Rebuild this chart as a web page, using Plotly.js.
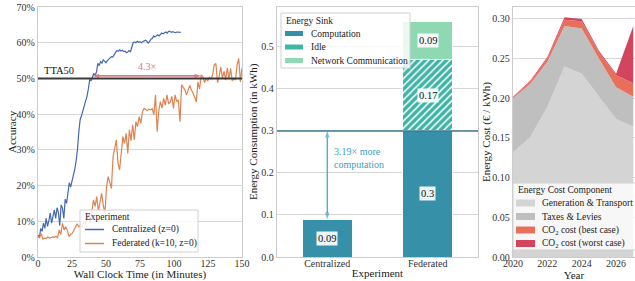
<!DOCTYPE html>
<html><head><meta charset="utf-8">
<script src="https://cdn.plot.ly/plotly-3.0.1.min.js"></script>
<style>html,body{margin:0;padding:0;background:#fff}#chart{width:635px;height:281px}</style>
</head><body><div id="chart"></div>
<script>
// ---------- Panel 1: accuracy over wall clock time ----------
const timeCentral = [0,1,2,3,4,5,6,7,8,9,10,11,12,13,14,15,16,17,18,19,20,21,22,23,24,25,26,27,28,29,30,31,32,33,34,35,36,37,38,39,40,41,42,43,44,45,46,47,48,49,50,51,52,53,54,55,56,57,58,59,60,61,62,63,64,65,66,67,68,69,70,71,72,73,74,75,76,77,78,79,80,81,82,83,84,85,86,87,88,89,90,91,92,93,94,95,96,97,98,99,100,101,102,103,104,105];
const accCentral = [6.2,5.3,8.0,7.2,9.5,8.0,10.8,8.6,10.2,12.3,9.5,12.0,13.2,10.8,13.8,12.5,8.8,14.6,13.7,10.8,16.2,15.0,17.5,20.8,19.6,21.2,22.6,24.5,26.8,30.0,35.0,38.5,39.6,40.8,42.0,43.2,45.0,47.0,49.6,49.4,50.6,51.3,51.0,51.8,54.2,53.6,54.7,54.3,55.2,54.8,54.4,55.0,55.3,55.8,56.1,56.0,56.8,57.3,57.8,57.6,58.0,57.7,57.9,57.5,57.6,57.2,57.4,57.8,57.5,58.6,60.0,60.2,60.0,60.4,60.1,60.3,60.0,60.3,60.6,60.7,60.4,59.9,60.3,61.0,61.2,61.9,61.6,62.0,62.2,61.9,62.4,62.7,62.5,62.9,63.0,62.7,63.2,63.2,62.9,63.1,62.9,62.8,63.0,62.9,62.8,62.9];
const timeFederated = [0,1.2,2.4,3.6,4.8,6,7.2,8.4,9.6,10.8,12,13.2,14.4,15.6,16.8,18,19.2,20.4,21.6,22.8,24,25.2,26.4,27.6,28.8,30,31.2,32.4,33.6,34.8,36,37.2,38.4,39.6,40.8,42,43.2,44.4,45.6,46.8,48,49.2,50.4,51.6,52.8,54,55.2,56.4,57.6,58.8,60,61.2,62.4,63.6,64.8,66,67.2,68.4,69.6,70.8,72,73.2,74.4,75.6,76.8,78,79.2,80.4,81.6,82.8,84,85.2,86.4,87.6,88.8,90,91.2,92.4,93.6,94.8,96,97.2,98.4,99.6,100.8,102,103.2,104.4,105.6,106.8,108,109.2,110.4,111.6,112.8,114,115.2,116.4,117.6,118.8,120,121.2,122.4,123.6,124.8,126,127.2,128.4,129.6,130.8,132,133.2,134.4,135.6,136.8,138,139.2,140.4,141.6,142.8,144,145.2,146.4,147.6,148.8,150];
const accFederated = [5.8,5.5,6.6,5.0,5.3,5.2,5.6,5.3,5.4,5.6,5.5,5.8,5.4,7.6,6.3,9.4,7.6,8.5,7.4,5.7,6.3,6.6,7.5,8.4,9.3,8.4,9.0,8.2,10.0,9.2,10.5,12.2,9.3,13.0,16.0,14.2,16.9,12.8,15.0,17.8,14.5,12.2,19.7,22.5,20.8,19.2,28.1,30.0,32.8,26.3,24.4,29.0,33.7,31.8,34.6,29.0,35.6,32.6,37.0,32.8,37.9,36.5,39.3,37.4,40.7,41.6,41.2,41.0,41.4,41.2,41.5,39.8,45.4,35.1,41.0,43.5,41.7,44.4,42.5,45.4,43.0,43.3,45.0,41.6,45.4,43.5,44.0,37.9,48.2,47.5,46.8,45.4,46.5,48.0,46.8,46.0,44.8,43.4,49.0,47.0,51.0,50.5,48.8,50.0,49.3,50.3,49.8,51.0,53.8,54.2,48.8,50.5,53.2,50.0,52.0,49.5,53.0,49.8,52.8,49.3,50.0,49.5,53.8,55.6,49.0,53.0];
const tta50 = 50;              // target accuracy line (%)
const ttaCentral = 40;         // minutes to reach TTA50, centralized
const ttaFederated = 120;      // minutes to reach TTA50, federated
const speedupArrowAcc = 50.7;
const speedupLabel = '4.3×';

// ---------- Panel 2: energy consumption ----------
const experiments = ['Centralized', 'Federated'];
const computation = [0.09, 0.30];
const idle = [0, 0.17];
const network = [0, 0.09];
const computationNote = '3.19× more<br>computation';

// ---------- Panel 3: energy cost ----------
const years = [2020, 2021, 2022, 2023, 2024, 2025, 2026, 2027];
const genTransport = [0.132, 0.151, 0.189, 0.240, 0.231, 0.202, 0.174, 0.164];
const taxesLevies = [0.068, 0.067, 0.057, 0.051, 0.057, 0.048, 0.040, 0.038];
const co2Best = [0.001, 0.003, 0.004, 0.008, 0.009, 0.008, 0.015, 0.017];
const co2Worst = [0.001, 0.001, 0.002, 0.003, 0.003, 0.002, 0.002, 0.072];

// ---------- styling ----------
const FONT = '"Liberation Serif", "Times New Roman", serif';
const W = 635, H = 281;
const px = p => p / W, py = p => 1 - p / H;
const C = {
  blue: '#4468b4', orange: '#dd8452', red: '#c44e52', redText: '#d97584',
  comp: '#3690a8', idle: '#3fb5a6', net: '#8ed8b2', arrowBlue: '#3c9ec4',
  gen: '#d4d4d4', tax: '#bfbfbf', best: '#e8705a', worst: '#d3455f'
};
const LEG_FONT = 9.5;
const TITLE_FONT = {family: FONT, size: 11, color: '#222'};

function axis(extra) {
  const base = {
    showline: true, mirror: true, linecolor: '#cccccc', linewidth: 1.2,
    showgrid: true, gridcolor: '#d6d6d6', gridwidth: 1, ticks: '', zeroline: false,
    tickfont: {family: FONT, size: 10, color: '#333'},
    fixedrange: true
  };
  const out = Object.assign({}, base, extra);
  if (extra.titleText) {
    out.title = {text: extra.titleText, font: TITLE_FONT, standoff: 1};
    delete out.titleText;
  }
  return out;
}

// ---------- traces ----------
const traces = [];
const tCentral = {x: timeCentral, y: accCentral, type: 'scatter', mode: 'lines', name: 'Centralized (z=0)',
  line: {color: C.blue, width: 1.2}, xaxis: 'x', yaxis: 'y', showlegend: false};
const tFed = {x: timeFederated, y: accFederated, type: 'scatter', mode: 'lines', name: 'Federated (k=10, z=0)',
  line: {color: C.orange, width: 1.2}, xaxis: 'x', yaxis: 'y', showlegend: false};
traces.push(tCentral, tFed);

const barCommon = {type: 'bar', x: experiments, width: 0.5, xaxis: 'x2', yaxis: 'y2', showlegend: false};
const bComp = Object.assign({}, barCommon, {y: computation, name: 'Computation',
  marker: {color: C.comp, line: {color: '#ffffff', width: 1}}});
const bIdle = Object.assign({}, barCommon, {y: idle, name: 'Idle',
  marker: {color: C.idle, line: {color: '#ffffff', width: 1},
    pattern: {shape: '/', fgcolor: '#ffffff', bgcolor: C.idle, size: 5, solidity: 0.3}}});
const bNet = Object.assign({}, barCommon, {y: network, name: 'Network Communication',
  marker: {color: C.net, line: {color: '#ffffff', width: 1}}});
traces.push(bComp, bIdle, bNet);

const areaCommon = {type: 'scatter', mode: 'lines', x: years, stackgroup: 'cost', xaxis: 'x3', yaxis: 'y3',
  line: {width: 0}, showlegend: false};
const aGen = Object.assign({}, areaCommon, {y: genTransport, name: 'Generation &amp; Transport', fillcolor: C.gen, line: {width: 0, color: C.gen}});
const aTax = Object.assign({}, areaCommon, {y: taxesLevies, name: 'Taxes &amp; Levies', fillcolor: C.tax, line: {width: 0, color: C.tax}});
const aBest = Object.assign({}, areaCommon, {y: co2Best, name: 'CO<sub>2</sub> cost (best case)', fillcolor: C.best, line: {width: 0, color: C.best}});
const aWorst = Object.assign({}, areaCommon, {y: co2Worst, name: 'CO<sub>2</sub> cost (worst case)', fillcolor: C.worst, line: {width: 0, color: C.worst}});
traces.push(aGen, aTax, aBest, aWorst);

// double-headed arrows drawn as line traces with arrow markers at both ends
function doubleArrow(xs, ys, color, xa, ya) {
  const xm = (typeof xs[0] === 'number') ? (xs[0] + xs[1]) / 2 : xs[0];
  const ym = (ys[0] + ys[1]) / 2;
  return {type: 'scatter', mode: 'lines+markers', xaxis: xa, yaxis: ya, showlegend: false, hoverinfo: 'skip',
    x: [xm, xs[0], null, xm, xs[1]], y: [ym, ys[0], null, ym, ys[1]], connectgaps: false,
    line: {color: color, width: 1.2},
    marker: {symbol: 'arrow', angleref: 'previous', size: [0, 7, 0, 0, 7], color: color, line: {width: 0}}};
}
traces.push(doubleArrow([ttaCentral, ttaFederated], [speedupArrowAcc, speedupArrowAcc], C.red, 'x', 'y'));
traces.push(doubleArrow([experiments[0], experiments[0]], [computation[0], computation[1]], C.arrowBlue, 'x2', 'y2'));

// ---------- shapes & annotations ----------
const shapes = [];
const annotations = [];

// TTA50 line
shapes.push({type: 'line', xref: 'x domain', yref: 'y', x0: 0, x1: 1, y0: tta50, y1: tta50,
  line: {color: '#3a3a3a', width: 2}, layer: 'above'});
annotations.push({xref: 'x', yref: 'y', x: 3, y: tta50, xanchor: 'left', yanchor: 'bottom', yshift: 0,
  text: 'TTA50', showarrow: false, font: {family: FONT, size: 10.5, color: '#111'}});
annotations.push({xref: 'x', yref: 'y', x: (ttaCentral + ttaFederated) / 2, y: speedupArrowAcc, yanchor: 'bottom', yshift: 2,
  text: speedupLabel, showarrow: false, font: {family: FONT, size: 10, color: C.redText}});

// 0.3 reference line in panel 2 (federated computation level)
shapes.push({type: 'line', xref: 'x2 domain', yref: 'y2', x0: 0, x1: 1, y0: computation[1], y1: computation[1],
  line: {color: '#3b7a8f', width: 1.5}, layer: 'above'});
annotations.push({xref: 'x2', yref: 'y2', x: 0.05, y: (computation[0] + computation[1]) / 2 + 0.04,
  xanchor: 'left', yanchor: 'middle', align: 'left', text: computationNote, showarrow: false,
  font: {family: FONT, size: 10, color: C.arrowBlue}});

// bar value labels
experiments.forEach((cat, i) => {
  let base = 0;
  [computation, idle, network].forEach(series => {
    const v = series[i];
    if (v > 0) {
      annotations.push({xref: 'x2', yref: 'y2', x: cat, y: base + v / 2, text: String(v), showarrow: false,
        bgcolor: 'rgba(255,255,255,0.9)', borderpad: 1, font: {family: FONT, size: 10.5, color: '#111'}});
    }
    base += v;
  });
});

// y-axis titles (placed like the reference)
[['Accuracy', 12], ['Energy Consumption (in kWh)', 253], ['Energy Cost (€ / kWh)', 486]].forEach(([t, xp]) => {
  annotations.push({xref: 'paper', yref: 'paper', x: px(xp), y: py(132), textangle: -90, text: t,
    showarrow: false, xanchor: 'center', yanchor: 'middle', font: TITLE_FONT});
});

// manual legends (compact matplotlib-like spacing)
function drawLegend(box, title, entries) {
  shapes.push({type: 'rect', xref: 'paper', yref: 'paper', x0: px(box.x0), x1: px(box.x1), y0: py(box.y1), y1: py(box.y0),
    fillcolor: 'rgba(255,255,255,0.82)', line: {color: '#d0d0d0', width: 1}, layer: 'above'});
  annotations.push({xref: 'paper', yref: 'paper', x: px(box.x0 + 3), y: py(box.titleY), xanchor: 'left', yanchor: 'middle',
    text: title, showarrow: false, font: {family: FONT, size: LEG_FONT, color: '#222'}});
  entries.forEach((e, i) => {
    const yc = box.firstY + i * box.step;
    if (e.kind === 'line') {
      shapes.push({type: 'line', xref: 'paper', yref: 'paper', x0: px(box.sx0), x1: px(box.sx1), y0: py(yc), y1: py(yc),
        line: {color: e.color, width: 1.5}, layer: 'above'});
    } else {
      shapes.push({type: 'rect', xref: 'paper', yref: 'paper', x0: px(box.sx0), x1: px(box.sx1), y0: py(yc + box.sh / 2), y1: py(yc - box.sh / 2),
        fillcolor: e.color, line: {width: 0}, layer: 'above'});
    }
    annotations.push({xref: 'paper', yref: 'paper', x: px(box.tx), y: py(yc), xanchor: 'left', yanchor: 'middle',
      text: e.name, showarrow: false, font: {family: FONT, size: LEG_FONT, color: '#222'}});
  });
}
drawLegend({x0: 80, x1: 198, y0: 210, y1: 252, titleY: 217, firstY: 229.5, step: 14, sx0: 85, sx1: 104, tx: 110},
  'Experiment', [tCentral, tFed].map(t => ({kind: 'line', color: t.line.color, name: t.name})));
drawLegend({x0: 281, x1: 410, y0: 13, y1: 68, titleY: 20.5, firstY: 33.5, step: 13.5, sx0: 285, sx1: 303, sh: 5, tx: 309},
  'Energy Sink', [bComp, bIdle, bNet].map(t => ({kind: 'rect', color: t.marker.color, name: t.name})));
drawLegend({x0: 513, x1: 640, y0: 183, y1: 250, titleY: 190, firstY: 203, step: 13.5, sx0: 516, sx1: 535, sh: 7, tx: 540},
  'Energy Cost Component', [aGen, aTax, aBest, aWorst].map(t => ({kind: 'rect', color: t.fillcolor, name: t.name})));

const xTickShift = -3;
const layout = {
  width: W, height: H, margin: {l: 0, r: 0, t: 0, b: 0},
  paper_bgcolor: '#ffffff', plot_bgcolor: '#ffffff',
  font: {family: FONT, size: 10, color: '#222'},
  showlegend: false, barmode: 'stack',
  xaxis: axis({domain: [px(38), px(242)], range: [0, 150], dtick: 25, tick0: 0, showgrid: false, anchor: 'y',
    ticklabelstandoff: xTickShift, titleText: 'Wall Clock Time (in Minutes)'}),
  yaxis: axis({domain: [py(257), py(7)], range: [0, 70], dtick: 10, ticksuffix: '%', anchor: 'x'}),
  xaxis2: axis({domain: [px(277), px(478)], type: 'category', range: [-0.5, 1.5], showgrid: false, anchor: 'y2',
    ticklabelstandoff: xTickShift, titleText: 'Experiment'}),
  yaxis2: axis({domain: [py(257), py(7)], range: [0, 0.595], dtick: 0.1, tickformat: '.1f', anchor: 'x2'}),
  xaxis3: axis({domain: [px(513), 1], range: [2020, 2027.1], dtick: 2, tick0: 2020, showgrid: false, anchor: 'y3',
    ticklabelstandoff: xTickShift, titleText: 'Year'}),
  yaxis3: axis({domain: [py(257), py(7)], range: [0, 0.315], dtick: 0.05, tickformat: '.2f', anchor: 'x3'}),
  shapes: shapes, annotations: annotations
};

Plotly.newPlot('chart', traces, layout, {staticPlot: true, displayModeBar: false});
</script>
</body></html>
